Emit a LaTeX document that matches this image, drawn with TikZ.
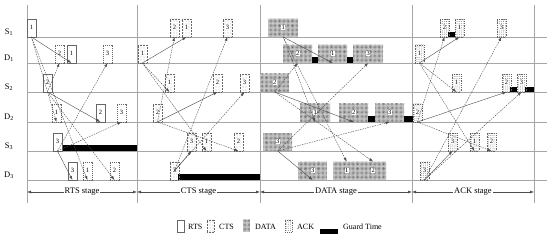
\documentclass[tikz,border=0pt]{standalone}
\usepackage{fontspec}
\setmainfont{Liberation Serif}
\usetikzlibrary{arrows.meta,patterns.meta}

\begin{document}
\begin{tikzpicture}[
  x=1pt, y=-1pt,
  font=\fontsize{8.5}{9}\selectfont,
  grid/.style={draw=black!35, line width=0.5pt},
  pkt/.style={draw=black!60, line width=0.35pt, anchor=south west, inner sep=0pt,
    minimum width=8.5pt, minimum height=18pt},
  pid/.style={label={[fill=white, inner sep=0.4pt, font=\fontsize{6.5}{7}\selectfont]center:#1}},
  rts/.style={pkt, fill=white},
  rtsrx/.style={pkt, fill=white, dash pattern=on 1.2pt off 0.8pt},
  cts/.style={pkt, dash pattern=on 0.6pt off 0.9pt, pattern color=black!70,
    pattern={Dots[distance=3pt,radius=0.35pt]}},
  data/.style={pkt, draw=none, minimum width=29pt, preaction={fill=black!18},
    pattern color=black!75, pattern={Dots[distance=1.3pt,radius=0.35pt]}},
  ack/.style={pkt, dash pattern=on 1pt off 0.8pt, pattern color=black!70,
    pattern={Dots[distance=1.9pt,radius=0.35pt]}},
  guard/.style={fill=black},
  sent/.style={draw=black!70, line width=0.4pt, -{Latex[length=4pt,width=2.8pt]}},
  heard/.style={sent, dash pattern=on 1.5pt off 1pt},
  stage/.style={draw=black!70, line width=0.4pt,
    {Latex[length=4pt,width=2.8pt]}-{Latex[length=4pt,width=2.8pt]}},
  key/.style={font=\fontsize{8}{9}\selectfont, anchor=west, inner sep=0pt}
]
\useasboundingbox (0,0) rectangle (550,240);
\def\ysa{37} \def\yda{63} \def\ysb{92} \def\ydb{122} \def\ysc{151} \def\ydc{180}

% rows and stage borders
\draw[grid] (27,\ysa) -- (547,\ysa) (27,\yda) -- (547,\yda)
  (27,\ysb) -- (547,\ysb) (27,\ydb) -- (547,\ydb)
  (27,\ysc) -- (547,\ysc) (27,\ydc) -- (547,\ydc);
\draw[grid] (27,5) -- (27,203) (137,5) -- (137,203) (260,5) -- (260,203)
  (412,5) -- (412,203) (534,5) -- (534,203);
\node (lS1) at (9,\ysa-5) {S\textsubscript{1}};
\node (lD1) at (9,\yda-5) {D\textsubscript{1}};
\node (lS2) at (9,\ysb-5) {S\textsubscript{2}};
\node (lD2) at (9,\ydb-5) {D\textsubscript{2}};
\node (lS3) at (9,\ysc-5) {S\textsubscript{3}};
\node (lD3) at (9,\ydc-5) {D\textsubscript{3}};

% guard times
\fill[guard] (62,\ysc-6) rectangle (137,\ysc);
\fill[guard] (178,\ydc-6) rectangle (260,\ydc);
\fill[guard] (312,\yda-6) rectangle (319,\yda);
\fill[guard] (347,\yda-6) rectangle (354,\yda);
\fill[guard] (368,\ydb-6) rectangle (375,\ydb);
\fill[guard] (404,\ydb-6) rectangle (413,\ydb);
\fill[guard] (448,\ysa-5) rectangle (455,\ysa);
\fill[guard] (510,\ysb-5) rectangle (517,\ysb);
\fill[guard] (525,\ysb-5) rectangle (534,\ysb);

% RTS stage
\node[rts, pid=1] (rS1) at (27,\ysa) {};
\node[rts, pid=2] (rS2) at (43,\ysb) {};
\node[rts, pid=3] (rS3) at (53,\ysc) {};
\node[rtsrx, pid=2] (rD1b) at (55,\yda) {};
\node[rts, pid=1] (rD1a) at (67,\yda) {};
\node[rtsrx, pid=3] (rD1c) at (103,\yda) {};
\node[rtsrx, pid=1] (rD2a) at (52,\ydb) {};
\node[rts, pid=2] (rD2b) at (96,\ydb) {};
\node[rtsrx, pid=3] (rD2c) at (117,\ydb) {};
\node[rts, pid=3] (rD3c) at (68,\ydc) {};
\node[rtsrx, pid=1] (rD3a) at (83,\ydc) {};
\node[rtsrx, pid=2] (rD3b) at (110,\ydc) {};
\draw[sent] (rS1.south) -- (rD1a.south);
\draw[heard] (rS1.south) -- (rD2a.south);
\draw[heard] (rS1.south) -- (rD3a.south);
\draw[sent] (rS2.south) -- (rD2b.south);
\draw[heard] (rS2.south) -- (rD1b.south);
\draw[heard] (rS2.south) -- (rD3b.south);
\draw[sent] (rS3.south) -- (rD3c.south);
\draw[heard] (rS3.south) -- (rD2c.south);
\draw[heard] (rS3.south) -- (rD1c.south);

% CTS stage
\node[cts, pid=1] (cD1) at (138,\yda) {};
\node[cts, pid=2] (cD2) at (153,\ydb) {};
\node[cts, pid=3] (cD3) at (170,\ydc) {};
\node[cts, pid=2] (cS1b) at (170,\ysa) {};
\node[cts, pid=1] (cS1a) at (182,\ysa) {};
\node[cts, pid=3] (cS1c) at (223,\ysa) {};
\node[cts, pid=1] (cS2a) at (165,\ysb) {};
\node[cts, pid=2] (cS2b) at (213,\ysb) {};
\node[cts, pid=3] (cS2c) at (240,\ysb) {};
\node[cts, pid=3] (cS3c) at (187,\ysc) {};
\node[cts, pid=1] (cS3a) at (202,\ysc) {};
\node[cts, pid=2] (cS3b) at (234,\ysc) {};
\draw[sent] (cD1.south) -- (cS1a.south);
\draw[heard] (cD1.south) -- (cS2a.south);
\draw[heard] (cD1.south) -- (cS3a.south);
\draw[sent] (cD2.south) -- (cS2b.south);
\draw[heard] (cD2.south) -- (cS1b.south);
\draw[heard] (cD2.south) -- (cS3b.south);
\draw[sent] (cD3.center) -- (cS3c.south);
\draw[heard] (cD3.center) -- (cS2c.south);
\draw[heard] (cD3.center) -- (cS1c.south);

% DATA stage
\node[data, pid=1, minimum width=30pt] (dS1) at (268,\ysa) {};
\node[data, pid=2] (dS2) at (260,\ysb) {};
\node[data, pid=3] (dS3) at (263,\ysc) {};
\node[data, pid=2] (dD1b) at (283,\yda) {};
\node[data, pid=1] (dD1a) at (318,\yda) {};
\node[data, pid=3, minimum width=30pt] (dD1c) at (353,\yda) {};
\node[data, pid=1, minimum width=30pt] (dD2a) at (300,\ydb) {};
\node[data, pid=2] (dD2b) at (339,\ydb) {};
\node[data, pid=3] (dD2c) at (375,\ydb) {};
\node[data, pid=3] (dD3c) at (298,\ydc) {};
\node[data, pid=1, minimum width=27pt] (dD3a) at (333,\ydc) {};
\node[data, pid=2, minimum width=26pt] (dD3b) at (360,\ydc) {};
\draw[sent] (dS1.south) -- (dD1a.south);
\draw[heard] (dS1.south) -- (dD2a.south);
\draw[heard] (dS1.south) -- (dD3a.north);
\draw[sent] (dS2.south) -- (dD2b.south);
\draw[heard] (dS2.south) -- (dD1b.south);
\draw[heard] (dS2.south) -- (dD3b.north);
\draw[sent] (dS3.south) -- (dD3c.south);
\draw[heard] (dS3.south) -- (dD2c.south);
\draw[heard] (dS3.south) -- (dD1c.south);

% ACK stage
\node[ack, pid=1] (aD1) at (415,\yda) {};
\node[ack, pid=2] (aD2) at (413,\ydb) {};
\node[ack, pid=3] (aD3) at (420,\ydc) {};
\node[ack, pid=2] (aS1b) at (440,\ysa) {};
\node[ack, pid=1] (aS1a) at (455,\ysa) {};
\node[ack, pid=3] (aS1c) at (497,\ysa) {};
\node[ack, pid=1] (aS2a) at (452,\ysb) {};
\node[ack, pid=2] (aS2b) at (502,\ysb) {};
\node[ack, pid=3] (aS2c) at (517,\ysb) {};
\node[ack, pid=3] (aS3c) at (448,\ysc) {};
\node[ack, pid=1] (aS3a) at (470,\ysc) {};
\node[ack, pid=2] (aS3b) at (487,\ysc) {};
\draw[sent] (aD1.south) -- (aS1a.south);
\draw[heard] (aD1.south) -- (aS2a.south);
\draw[heard] (aD1.south) -- (aS3a.south);
\draw[sent] (aD2.south) -- (aS2b.south);
\draw[heard] (aD2.south) -- (aS1b.south);
\draw[heard] (aD2.south) -- (aS3b.south);
\draw[sent] (aD3.south) -- (aS3c.south);
\draw[heard] (aD3.south) -- (aS2c.south);
\draw[heard] (aD3.south) -- (aS1c.south);

% stages
\coordinate (b0) at (27,192);
\coordinate (b1) at (137,192);
\coordinate (b2) at (260,192);
\coordinate (b3) at (412,192);
\coordinate (b4) at (534,192);
\draw[stage] (b0) -- (b1) node[midway, fill=white, inner sep=1pt] (tRTS) {RTS stage};
\draw[stage] (b1) -- (b2) node[midway, fill=white, inner sep=1pt] (tCTS) {CTS stage};
\draw[stage] (b2) -- (b3) node[midway, fill=white, inner sep=1pt] (tDATA) {DATA stage};
\draw[stage] (b3) -- (b4) node[midway, fill=white, inner sep=1pt] (tACK) {ACK stage};

% legend
\node[rts, minimum height=12pt, minimum width=7pt] (kRTS) at (177,232) {};
\node[key] (kRTSt) at (188,227) {RTS};
\node[cts, minimum height=12pt, minimum width=7pt] (kCTS) at (207,232) {};
\node[key] (kCTSt) at (219,227) {CTS};
\node[data, minimum height=12pt, minimum width=7pt] (kDATA) at (243,232) {};
\node[key] (kDATAt) at (255,227) {DATA};
\node[ack, minimum height=12pt, minimum width=7pt] (kACK) at (285,232) {};
\node[key] (kACKt) at (297,227) {ACK};
\fill[guard] (320,229) rectangle (338,234);
\node[key] (kGTt) at (343,227) {Guard Time};
\end{tikzpicture}
\end{document}
